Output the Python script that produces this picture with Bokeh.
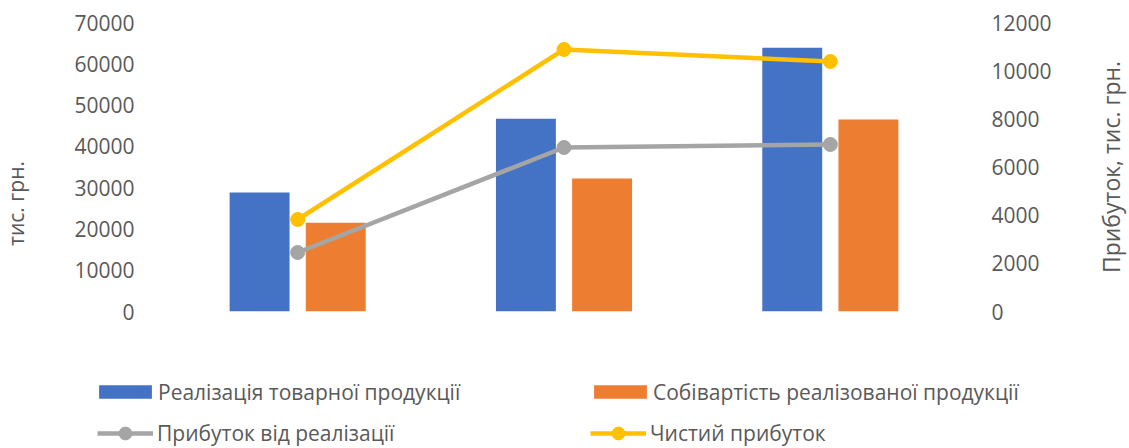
from math import pi
from bokeh.plotting import figure
from bokeh.layouts import column, row
from bokeh.models import (ColumnDataSource, FactorRange, Range1d, LinearAxis,
                          Legend, LegendItem, Label, FixedTicker)
from bokeh.transform import dodge
from bokeh.embed import file_html
from bokeh.resources import INLINE

# ---- data ----
categories = ["1", "2", "3"]
sales = [28800, 46700, 63900]          # Реалізація товарної продукції
cost = [21500, 32200, 46500]           # Собівартість реалізованої продукції
profit_sales = [2450, 6810, 6935]      # Прибуток від реалізації (right axis)
net_profit = [3820, 10880, 10380]      # Чистий прибуток (right axis)
left_ticks = [0, 10000, 20000, 30000, 40000, 50000, 60000, 70000]
right_ticks = [0, 2000, 4000, 6000, 8000, 10000, 12000]
series_names = ["Реалізація товарної продукції",
                "Собівартість реалізованої продукції",
                "Прибуток від реалізації",
                "Чистий прибуток"]
left_title = "тис. грн."
right_title = "Прибуток, тис. грн."

# ---- style ----
FONT = "Open Sans"
FS = "21px"
TXT = "#595959"
C_BLUE, C_ORANGE, C_GRAY, C_YELLOW = "#4472C4", "#ED7D31", "#A5A5A5", "#FFC000"

src = ColumnDataSource(dict(cat=categories, sales=sales, cost=cost,
                            profit=profit_sales, net=net_profit))
left_range = Range1d(0, 70000)
right_range = Range1d(0, 12000)


def bare(fig):
    fig.outline_line_color = None
    fig.xgrid.grid_line_color = None
    fig.ygrid.grid_line_color = None
    return fig


# ---- main chart ----
p = bare(figure(width=1049, height=330,
                x_range=FactorRange(factors=categories, range_padding=0),
                y_range=left_range,
                output_backend="svg", toolbar_location=None,
                x_axis_location=None,
                min_border_left=124, min_border_right=126,
                min_border_top=22, min_border_bottom=19))

ax = p.yaxis[0]
ax.ticker = FixedTicker(ticks=left_ticks)
ax.axis_line_color = None
ax.major_tick_line_color = None
ax.minor_tick_line_color = None
ax.major_label_standoff = 24
ax.major_label_text_font = FONT
ax.major_label_text_font_size = FS
ax.major_label_text_color = TXT

p.extra_y_ranges = {"right": right_range}
rax = LinearAxis(y_range_name="right", ticker=FixedTicker(ticks=right_ticks))
rax.axis_line_color = None
rax.major_tick_line_color = None
rax.minor_tick_line_color = None
rax.major_label_standoff = 22
rax.major_label_text_font = FONT
rax.major_label_text_font_size = FS
rax.major_label_text_color = TXT
p.add_layout(rax, "right")

p.vbar(x=dodge("cat", -0.143, range=p.x_range), top="sales", width=0.225,
       source=src, fill_color=C_BLUE, line_color=None)
p.vbar(x=dodge("cat", 0.143, range=p.x_range), top="cost", width=0.225,
       source=src, fill_color=C_ORANGE, line_color=None)
p.line(x="cat", y="profit", source=src, y_range_name="right",
       line_color=C_GRAY, line_width=4.5)
p.scatter(x="cat", y="profit", source=src, y_range_name="right",
          size=14, fill_color=C_GRAY, line_color=C_GRAY)
p.line(x="cat", y="net", source=src, y_range_name="right",
       line_color=C_YELLOW, line_width=4.5)
p.scatter(x="cat", y="net", source=src, y_range_name="right",
          size=14, fill_color=C_YELLOW, line_color=C_YELLOW)

# ---- axis-title strips (left one sits a little below centre, as in the original) ----
def strip(yr):
    return bare(figure(width=40, height=330, x_range=Range1d(0, 40), y_range=yr,
                       output_backend="svg", toolbar_location=None,
                       x_axis_location=None, y_axis_location=None,
                       min_border_left=0, min_border_right=0,
                       min_border_top=22, min_border_bottom=19))


ls = strip(left_range)
ls.add_layout(Label(x=15, y=26160, text=left_title, angle=pi / 2,
                    text_align="center", text_baseline="middle",
                    text_font=FONT, text_font_size=FS, text_color=TXT))
rs = strip(right_range)
rs.add_layout(Label(x=21, y=6000, text=right_title, angle=pi / 2,
                    text_align="center", text_baseline="middle",
                    text_font=FONT, text_font_size="23px", text_color=TXT))

# ---- legend strip: same series (hidden renderers feed the legend glyphs) ----
q = bare(figure(width=1129, height=118, output_backend="svg", toolbar_location=None,
                x_axis_location=None, y_axis_location=None,
                min_border_left=0, min_border_right=0, min_border_top=0,
                min_border_bottom=0,
                x_range=FactorRange(factors=categories, range_padding=0),
                y_range=Range1d(0, 70000)))
g1 = q.vbar(x="cat", top="sales", width=0.2, source=src, fill_color=C_BLUE, line_color=None)
g2 = q.vbar(x="cat", top="cost", width=0.2, source=src, fill_color=C_ORANGE, line_color=None)
g3l = q.line(x="cat", y="profit", source=src, line_color=C_GRAY, line_width=4.5)
g3m = q.scatter(x="cat", y="profit", source=src, fill_color=C_GRAY, line_color=C_GRAY)
g4l = q.line(x="cat", y="net", source=src, line_color=C_YELLOW, line_width=4.5)
g4m = q.scatter(x="cat", y="net", source=src, fill_color=C_YELLOW, line_color=C_YELLOW)
for r in (g1, g2, g3l, g3m, g4l, g4m):
    r.visible = False


def style_legend(lg):
    lg.orientation = "horizontal"
    lg.border_line_color = None
    lg.background_fill_alpha = 0
    lg.padding = 0
    lg.margin = 0
    lg.label_height = 29
    lg.spacing = 15
    lg.label_text_font = FONT
    lg.label_text_font_size = FS
    lg.label_text_color = TXT


leg_bars = Legend(items=[LegendItem(label=series_names[0], renderers=[g1]),
                         LegendItem(label=series_names[1], renderers=[g2])],
                  location=(92, 42))
style_legend(leg_bars)
leg_bars.glyph_width = 66
leg_bars.glyph_height = 17
leg_bars.label_standoff = 0
leg_bars.label_width = 414
q.add_layout(leg_bars)

leg_lines = Legend(items=[LegendItem(label=series_names[2], renderers=[g3l, g3m]),
                          LegendItem(label=series_names[3], renderers=[g4l, g4m])],
                   location=(97, -1))
style_legend(leg_lines)
leg_lines.glyph_width = 56
leg_lines.glyph_height = 32
leg_lines.label_standoff = 4
leg_lines.label_width = 418
q.add_layout(leg_lines)

layout = column(row(ls, p, rs, spacing=0), column(q, spacing=0), spacing=0)
open("out.html", "w").write(file_html(layout, INLINE))
